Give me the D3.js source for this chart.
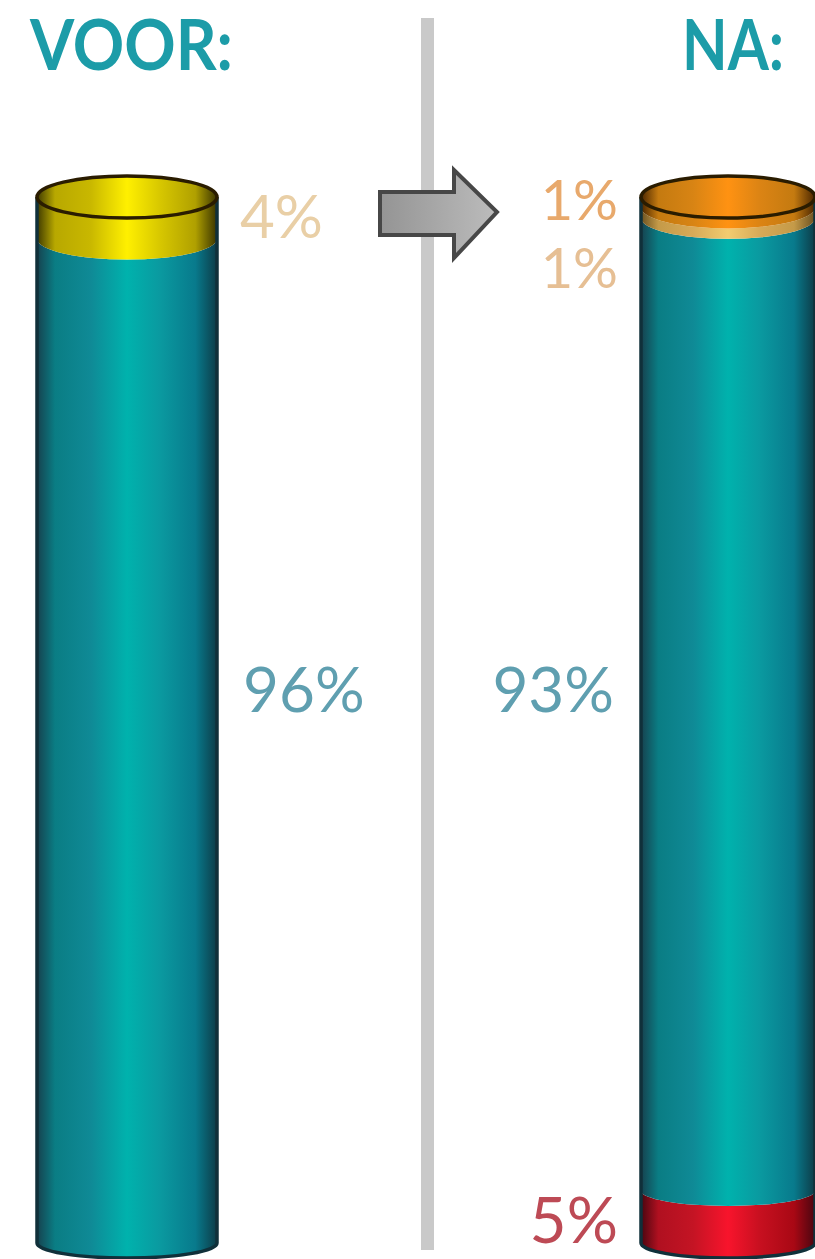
<!DOCTYPE html>
<html>
<head>
<meta charset="utf-8">
<script src="https://cdn.jsdelivr.net/npm/d3@7"></script>
<style>
  html, body { margin: 0; padding: 0; background: #fff; }
  svg { display: block; }
  text { font-family: Lato, "Open Sans", sans-serif; }
</style>
</head>
<body>
<svg id="chart" width="815" height="1259"></svg>
<script>
// Share of each outcome per cylinder, bottom segment first.
const groups = ["VOOR:", "NA:"];
const segmentKeys = ["rood", "teal", "tan", "oranje", "geel"];
const voorValues = [0, 96, 0, 0, 4];
const naValues = [5, 93, 1, 1, 0];
const valueRows = [voorValues, naValues];

// Ramps run across the cylinder: shaded edge, highlight, shaded edge.
const rampOffsets = [0, 0.1, 0.3, 0.5, 0.68, 0.88, 1];
const ramps = {
  teal:   ["#16424f", "#0a7d84", "#0f8a96", "#00b2ad", "#0a9aa0", "#087a8c", "#0d3c48"],
  geel:   ["#3f3a00", "#b8a800", "#c9b800", "#fff000", "#d8c800", "#b0a000", "#3a3400"],
  oranje: ["#4a2600", "#c47a10", "#d88414", "#ff9212", "#dc8414", "#c47a10", "#4a2600"],
  tan:    ["#6a5020", "#c49a48", "#d8aa58", "#f2cc70", "#d8aa58", "#c49a48", "#6a5020"],
  rood:   ["#4a0610", "#b01020", "#c41424", "#f8142c", "#c81020", "#a80814", "#4a0610"]
};
const labelColors = { teal: "#5f9fb0", geel: "#e9cfa6", oranje: "#e8a96c", tan: "#e6bf94", rood: "#bd4a55" };

const svg = d3.select("#chart");
const defs = svg.append("defs");

Object.entries(ramps).forEach(([key, colors]) => {
  const grad = defs.append("linearGradient").attr("id", `ramp-${key}`)
    .attr("x1", 0).attr("x2", 1).attr("y1", 0).attr("y2", 0);
  colors.forEach((c, i) => grad.append("stop")
    .attr("offset", rampOffsets[i]).attr("stop-color", c));
});
const arrowGrad = defs.append("linearGradient").attr("id", "arrow-fill")
  .attr("x1", 0).attr("x2", 1).attr("y1", 0).attr("y2", 0);
arrowGrad.append("stop").attr("offset", 0).attr("stop-color", "#949494");
arrowGrad.append("stop").attr("offset", 1).attr("stop-color", "#bcbcbc");

const x = d3.scalePoint().domain(groups).range([127, 728]);
const radius = d3.scaleOrdinal().domain(groups).range([90, 87]);
const y = d3.scaleLinear().domain([0, 100]).range([1243, 197]);
// Rings open up slightly towards the top of the cylinder
const ringRy = d3.scaleLinear().domain([0, 100]).range([15, 21]);

const tableRows = groups.map((g, i) => {
  const row = { group: g };
  segmentKeys.forEach((k, j) => { row[k] = valueRows[i][j]; });
  return row;
});
const series = d3.stack().keys(segmentKeys)(tableRows);

// Divider between the two cylinders
svg.append("rect").attr("x", 421).attr("y", 18).attr("width", 13).attr("height", 1232)
  .attr("fill", "#c9c9c9");

// Segment outline: flat sides, curved along the front at both ends
function segmentPath(cx, rx, v0, v1) {
  const top = y(v1), bottom = y(v0);
  return `M${cx - rx},${top} L${cx - rx},${bottom}` +
    ` A${rx},${ringRy(v0)} 0 0 0 ${cx + rx},${bottom}` +
    ` L${cx + rx},${top} A${rx},${ringRy(v1)} 0 0 1 ${cx - rx},${top} Z`;
}

groups.forEach((g, i) => {
  const cx = x(g), rx = radius(g);
  const layer = svg.append("g").attr("class", "cylinder");
  const visible = series.filter(s => s[i][1] > s[i][0]);

  layer.selectAll("path.segment").data(visible).join("path")
    .attr("class", "segment")
    .attr("d", s => segmentPath(cx, rx, s[i][0], s[i][1]))
    .attr("fill", s => `url(#ramp-${s.key})`);

  // Dark silhouette down both sides and round the base
  layer.append("path")
    .attr("d", `M${cx - rx},${y(100)} L${cx - rx},${y(0)} A${rx},${ringRy(0)} 0 0 0 ${cx + rx},${y(0)} L${cx + rx},${y(100)}`)
    .attr("fill", "none").attr("stroke", "#10303a").attr("stroke-width", 3.5);

  // Open top of the cylinder, coloured by the uppermost segment
  const topKey = visible[visible.length - 1].key;
  layer.append("ellipse")
    .attr("cx", cx).attr("cy", y(100)).attr("rx", rx).attr("ry", ringRy(100))
    .attr("fill", `url(#ramp-${topKey})`)
    .attr("stroke", "#2a1c00").attr("stroke-width", 3.5);
});

// Arrow from the first cylinder to the second
const arrowLine = d3.line();
svg.append("path")
  .attr("d", arrowLine([[380, 192], [454, 192], [454, 170], [497, 212], [454, 258], [454, 235], [380, 235]]) + "Z")
  .attr("fill", "url(#arrow-fill)").attr("stroke", "#474747").attr("stroke-width", 4)
  .attr("stroke-linejoin", "miter");

// Column headings
svg.selectAll("text.heading").data(groups).join("text")
  .attr("class", "heading")
  .attr("x", (d, i) => [30, 682][i]).attr("y", 70)
  .attr("font-size", 70).attr("font-weight", 700).attr("fill", "#1c9ca8")
  .attr("textLength", (d, i) => [203, 102][i]).attr("lengthAdjust", "spacingAndGlyphs")
  .text(d => d);

// Percentage labels, all read from the same values as the segments
const labelSpots = [
  { row: 0, key: "geel", x: 240, y: 238, anchor: "start", size: 60 },
  { row: 0, key: "teal", x: 243, y: 712, anchor: "start", size: 62 },
  { row: 1, key: "oranje", x: 618, y: 220, anchor: "end", size: 56 },
  { row: 1, key: "tan", x: 618, y: 288, anchor: "end", size: 56 },
  { row: 1, key: "teal", x: 614, y: 712, anchor: "end", size: 62 },
  { row: 1, key: "rood", x: 618, y: 1243, anchor: "end", size: 64 }
];
svg.selectAll("text.value").data(labelSpots).join("text")
  .attr("class", "value")
  .attr("x", d => d.x).attr("y", d => d.y)
  .attr("text-anchor", d => d.anchor)
  .attr("font-size", d => d.size).attr("font-weight", 400)
  .attr("fill", d => labelColors[d.key])
  .text(d => `${tableRows[d.row][d.key]}%`);
</script>
</body>
</html>
